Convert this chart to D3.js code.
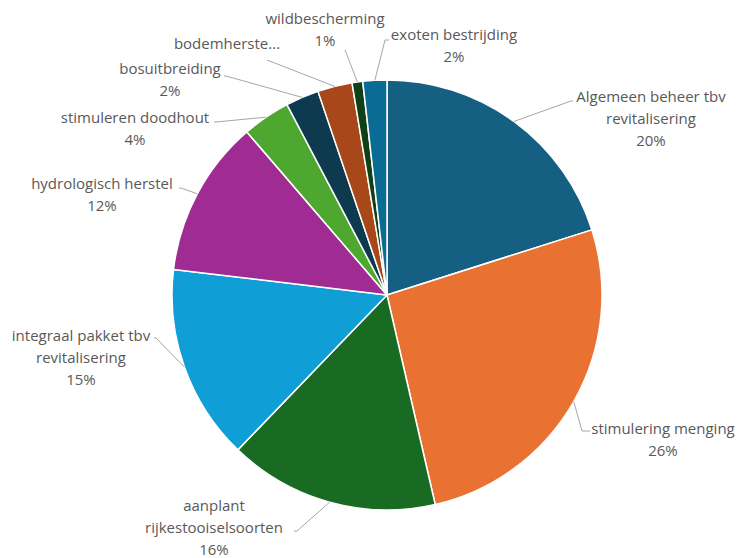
<!DOCTYPE html>
<html>
<head>
<meta charset="utf-8">
<script src="https://cdn.jsdelivr.net/npm/d3@7"></script>
<style>
  html, body { margin: 0; padding: 0; background: #ffffff; }
  svg { display: block; }
</style>
</head>
<body>
<svg id="chart" width="744" height="558"></svg>
<script>
// ---- data ----
const categories = [
  "Algemeen beheer tbv revitalisering",
  "stimulering menging",
  "aanplant rijkestooiselsoorten",
  "integraal pakket tbv revitalisering",
  "hydrologisch herstel",
  "stimuleren doodhout",
  "bosuitbreiding",
  "bodemherstel",
  "wildbescherming",
  "exoten bestrijding"
];
const values = [20.1, 26.3, 15.8, 14.7, 11.8, 3.6, 2.5, 2.6, 0.8, 1.8];
const labelLines = [
  ["Algemeen beheer tbv", "revitalisering"],
  ["stimulering menging"],
  ["aanplant", "rijkestooiselsoorten"],
  ["integraal pakket tbv", "revitalisering"],
  ["hydrologisch herstel"],
  ["stimuleren doodhout"],
  ["bosuitbreiding"],
  ["bodemherste..."],
  ["wildbescherming"],
  ["exoten bestrijding"]
];
const percentLabels = ["20%", "26%", "16%", "15%", "12%", "4%", "2%", "", "1%", "2%"];
const colors = ["#156082", "#E97132", "#196B24", "#0F9ED5", "#A02B93",
                "#4EA72E", "#0D3A4E", "#A8471A", "#0F4016", "#0A6B94"];

// ---- layout (label block centre x, first line y, leader elbow/end) ----
const labelLayout = [
  { x: 651, y: 98,  elbow: [571, 101], end: [573, 101] },
  { x: 663, y: 430, elbow: [582, 431], end: [590, 431] },
  { x: 214, y: 507, elbow: [297, 531], end: [294, 531] },
  { x: 81,  y: 337, elbow: [156, 338], end: [154, 338] },
  { x: 102, y: 185, elbow: [181, 188], end: [179, 188] },
  { x: 135, y: 119, elbow: [216, 122], end: [214, 122] },
  { x: 170, y: 70,  elbow: [226, 76],  end: [224, 76] },
  { x: 227, y: 45,  elbow: [267, 60],  end: [267, 60] },
  { x: 325, y: 20,  elbow: [345, 50],  end: [345, 50] },
  { x: 454, y: 36,  elbow: [385, 40],  end: [389, 40] }
];

const W = 744, H = 558;
const cx = 387, cy = 295, R = 215;
const svg = d3.select("#chart");
const g = svg.append("g").attr("transform", `translate(${cx},${cy})`);

const pie = d3.pie().sort(null).value(d => d)(values);
const arc = d3.arc().innerRadius(0).outerRadius(R);
const edgeArc = d3.arc().innerRadius(R).outerRadius(R);
const color = d3.scaleOrdinal().domain(d3.range(values.length)).range(colors);

g.selectAll("path.slice")
  .data(pie)
  .enter().append("path")
  .attr("class", "slice")
  .attr("d", arc)
  .attr("fill", (d, i) => color(i))
  .attr("stroke", "#ffffff")
  .attr("stroke-width", 1.5)
  .attr("stroke-linejoin", "round");

// leader lines
const lineGen = d3.line();
svg.append("g").selectAll("path.leader")
  .data(pie)
  .enter().append("path")
  .attr("class", "leader")
  .attr("d", (d, i) => {
    const c = edgeArc.centroid(d);
    const L = labelLayout[i];
    return lineGen([[cx + c[0], cy + c[1]], L.elbow, L.end]);
  })
  .attr("fill", "none")
  .attr("stroke", "#a6a6a6")
  .attr("stroke-width", 1);

// labels
const font = "'Open Sans', 'Noto Sans', sans-serif";
const lh = 22;
const lg = svg.append("g");
labelLines.forEach((lines, i) => {
  const L = labelLayout[i];
  const t = lg.append("text")
    .attr("x", L.x)
    .attr("y", L.y)
    .attr("text-anchor", "middle")
    .attr("dominant-baseline", "middle")
    .attr("font-family", font)
    .attr("font-size", 15)
    .attr("fill", "#595959");
  const all = percentLabels[i] ? lines.concat([percentLabels[i]]) : lines;
  all.forEach((s, k) => {
    t.append("tspan").attr("x", L.x).attr("dy", k === 0 ? 0 : lh).text(s);
  });
});
</script>
</body>
</html>
